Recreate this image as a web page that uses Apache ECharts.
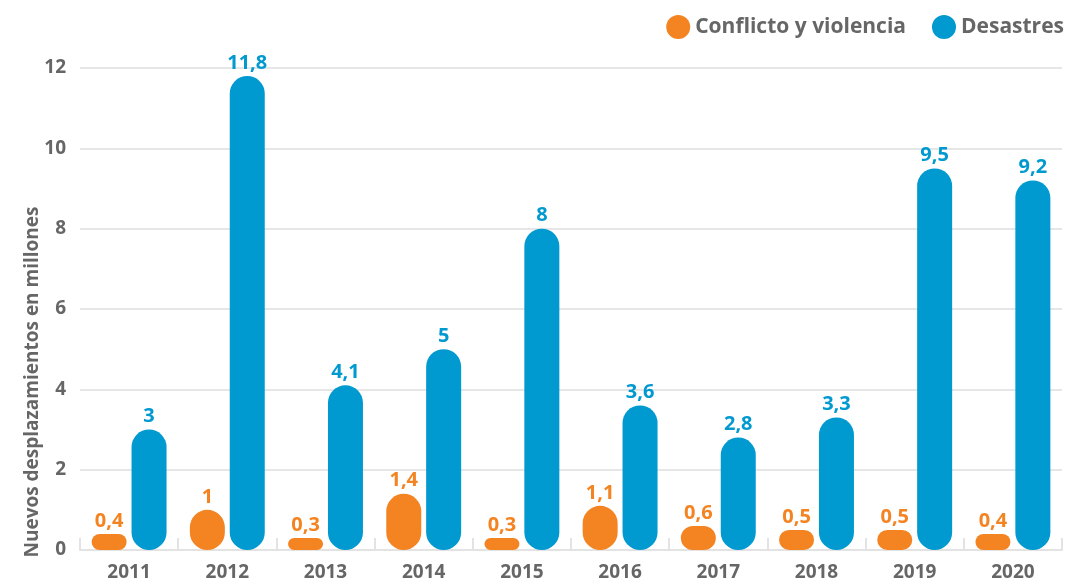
<!DOCTYPE html>
<html>
<head>
<meta charset="utf-8">
<script src="https://cdn.jsdelivr.net/npm/echarts@6/dist/echarts.min.js"></script>
<style>
  html, body { margin: 0; padding: 0; background: #ffffff; }
  #chart { width: 1072px; height: 587px; }
</style>
</head>
<body>
<div id="chart"></div>
<script>
// Nuevos desplazamientos internos por año (millones)
const years = ['2011', '2012', '2013', '2014', '2015', '2016', '2017', '2018', '2019', '2020'];
const conflictoViolencia = [0.4, 1, 0.3, 1.4, 0.3, 1.1, 0.6, 0.5, 0.5, 0.4];
const desastres = [3, 11.8, 4.1, 5, 8, 3.6, 2.8, 3.3, 9.5, 9.2];
const yTicks = { min: 0, max: 12, interval: 2 };

const ORANGE = '#F48422';
const BLUE = '#0099D0';
const GREY = '#666666';
const FONT = '"Open Sans", Lato, sans-serif';

const fmt = v => String(v).replace('.', ',');

function barSeries(name, data, color) {
  return {
    name: name,
    type: 'bar',
    data: data,
    barWidth: 35,
    barGap: '14%',
    itemStyle: { color: color, borderRadius: 18 },
    label: {
      show: true,
      position: 'top',
      distance: 3,
      color: color,
      fontFamily: FONT,
      fontWeight: 'bold',
      fontSize: 20,
      formatter: p => fmt(p.value)
    }
  };
}

const chart = echarts.init(document.getElementById('chart'), null, { renderer: 'canvas' });
chart.setOption({
  animation: false,
  textStyle: { fontFamily: FONT },
  legend: {
    right: 3,
    top: 10,
    itemWidth: 24,
    itemHeight: 24,
    itemGap: 26,
    icon: 'circle',
    textStyle: { color: GREY, fontSize: 21, fontWeight: 'bold', fontFamily: FONT },
    data: ['Conflicto y violencia', 'Desastres']
  },
  grid: { left: 80, right: 10, top: 68, bottom: 37, containLabel: false },
  xAxis: {
    type: 'category',
    data: years,
    axisLine: { lineStyle: { color: '#e3e3e3', width: 2 } },
    axisTick: { show: true, inside: true, length: 12, lineStyle: { color: '#e3e3e3', width: 2 } },
    axisLabel: { color: GREY, fontSize: 19, fontWeight: 'bold', fontFamily: FONT, margin: 13 }
  },
  yAxis: {
    type: 'value',
    min: yTicks.min,
    max: yTicks.max,
    interval: yTicks.interval,
    axisLine: { show: false },
    axisTick: { show: false },
    splitLine: { lineStyle: { color: '#e6e6e6', width: 2 } },
    axisLabel: { color: GREY, fontSize: 19, fontWeight: 'bold', fontFamily: FONT, margin: 14 }
  },
  graphic: [{
    type: 'text',
    x: 33,
    y: 382,
    rotation: Math.PI / 2,
    style: {
      text: 'Nuevos desplazamientos en millones',
      fill: GREY,
      font: 'bold 19px ' + FONT,
      textAlign: 'center',
      textVerticalAlign: 'middle'
    }
  }],
  series: [
    barSeries('Conflicto y violencia', conflictoViolencia, ORANGE),
    barSeries('Desastres', desastres, BLUE)
  ]
});
</script>
</body>
</html>
